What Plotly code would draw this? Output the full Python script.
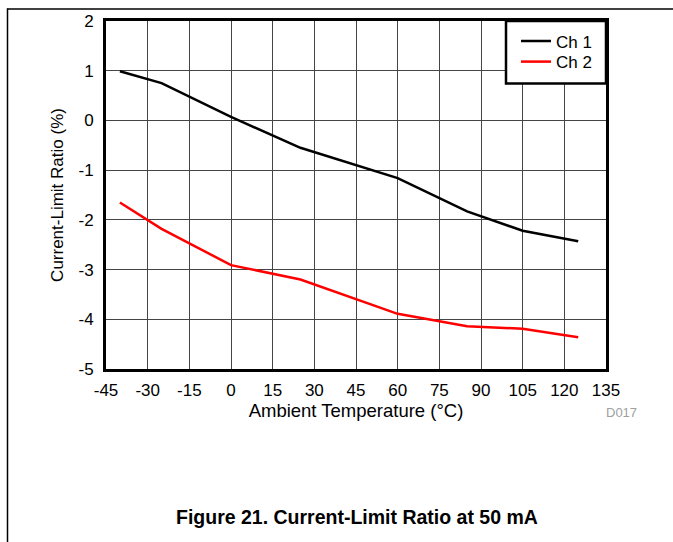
import plotly.graph_objects as go

temps = [-40, -25, 0, 25, 60, 85, 105, 125]
ch1 = [0.99, 0.75, 0.07, -0.55, -1.16, -1.83, -2.22, -2.43]
ch2 = [-1.65, -2.18, -2.91, -3.2, -3.89, -4.14, -4.19, -4.36]
x_ticks = [-45, -30, -15, 0, 15, 30, 45, 60, 75, 90, 105, 120, 135]
y_ticks = [-5, -4, -3, -2, -1, 0, 1, 2]

W, H = 673, 542
L, R, T, B = 106, 606, 13, 369

def px(x):
    return (x - L) / (R - L)

def py(y):
    return (B - y) / (B - T)

font = "Liberation Sans, Arial, sans-serif"

fig = go.Figure()
fig.add_trace(go.Scatter(x=temps, y=ch1, mode="lines", name="Ch 1",
                         line=dict(color="black", width=2.5), legend="legend"))
fig.add_trace(go.Scatter(x=temps, y=ch2, mode="lines", name="Ch 2",
                         line=dict(color="#ff0000", width=2.5), legend="legend2"))

leg_common = dict(xanchor="left", yanchor="middle", bgcolor="rgba(0,0,0,0)",
                  borderwidth=0, font=dict(size=17), itemwidth=30)

fig.update_layout(
    width=W, height=H,
    margin=dict(l=L, r=W - R, t=T, b=H - B, pad=0),
    paper_bgcolor="white", plot_bgcolor="white",
    font=dict(family=font, size=17, color="black"),
    showlegend=True,
    legend=dict(x=px(516), y=py(34), **leg_common),
    legend2=dict(x=px(516), y=py(55), **leg_common),
    xaxis=dict(range=[-45, 135], tickvals=x_ticks, ticktext=[str(v) for v in x_ticks],
               showgrid=True, gridcolor="#444", gridwidth=1,
               showline=True, linecolor="black", linewidth=3, mirror=True,
               ticks="", zeroline=False, tickfont=dict(size=17), ticklabelstandoff=4,
               title=dict(text="Ambient Temperature (°C)", font=dict(size=18.5), standoff=5)),
    yaxis=dict(range=[-5, 2], tickvals=y_ticks, ticktext=[str(v) for v in y_ticks],
               showgrid=True, gridcolor="#444", gridwidth=1,
               showline=True, linecolor="black", linewidth=3, mirror=True,
               ticks="", zeroline=False, tickfont=dict(size=17), ticklabelstandoff=6,
               title=dict(text="Current-Limit Ratio (%)", font=dict(size=17), standoff=11)),
    shapes=[
        dict(type="rect", xref="paper", yref="paper", layer="above",
             x0=px(506), x1=px(606), y0=py(77), y1=py(13),
             fillcolor="white", line=dict(color="black", width=2.5)),
        dict(type="line", xref="paper", yref="paper",
             x0=px(7.5), x1=px(W + 5), y0=py(0.75), y1=py(0.75),
             line=dict(color="black", width=1.5)),
        dict(type="line", xref="paper", yref="paper",
             x0=px(7.5), x1=px(7.5), y0=py(0), y1=py(H + 5),
             line=dict(color="black", width=1.5)),
    ],
    annotations=[
        dict(text="D017", xref="paper", yref="paper", x=px(621), y=py(413),
             showarrow=False, font=dict(size=13, color="#a0a0a0"),
             xanchor="center", yanchor="middle"),
        dict(text="<b>Figure 21. Current-Limit Ratio at 50 mA</b>", xref="paper", yref="paper",
             x=px(357), y=py(520), showarrow=False,
             font=dict(size=19.5, color="black"), xanchor="center", yanchor="middle"),
    ],
)

fig.write_html("out.html", config={"displayModeBar": False},
               post_script="document.body.style.margin='0';document.body.style.padding='0';")
